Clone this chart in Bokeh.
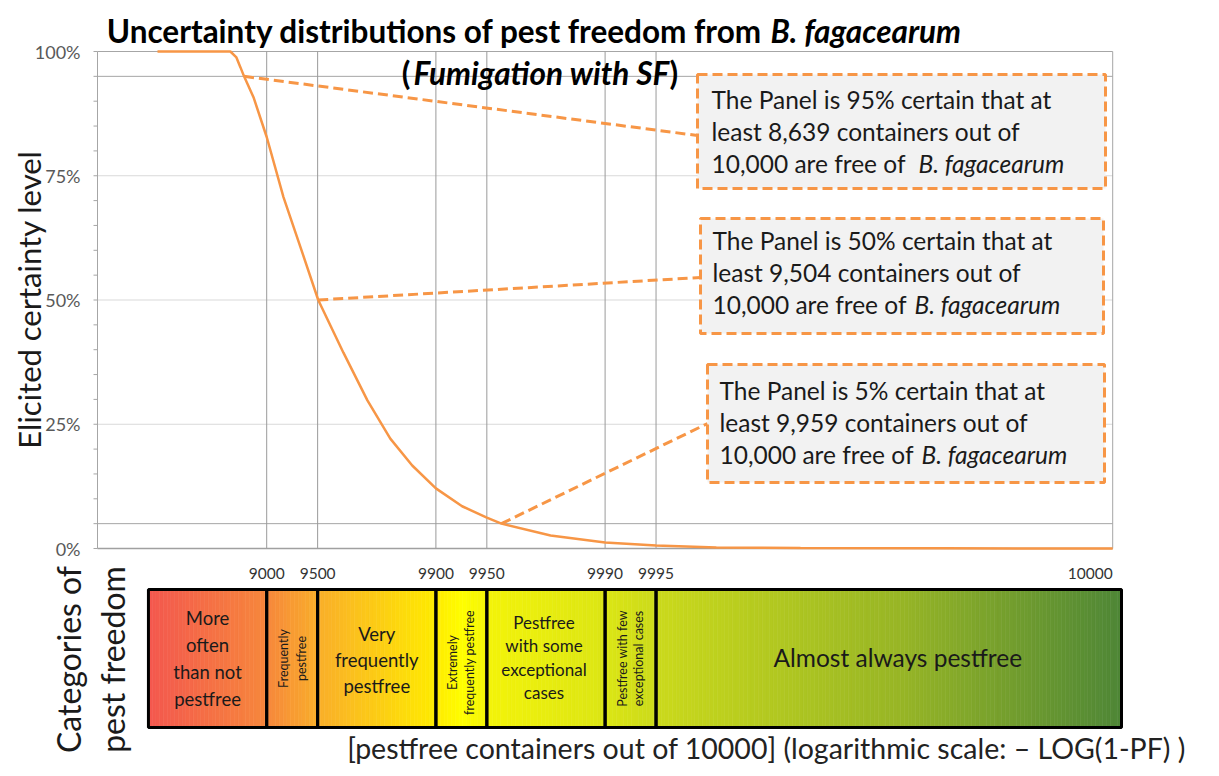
import numpy as np
from bokeh.plotting import figure
from bokeh.models import Range1d
from bokeh.embed import file_html
from bokeh.resources import INLINE
from bokeh.core.properties import value

# ---------------- data ----------------
CURVE_CONTAINERS = [5580, 8360, 8490, 8571, 8639, 8803, 9000, 9204, 9369, 9504,
                    9648, 9746, 9814, 9862, 9900, 9930, 9950, 9959, 9979, 9990,
                    9995, 9997.8, 9999.3, 9999.9, 10000]
CURVE_CERTAINTY = [1.0, 1.0, 0.988, 0.968, 0.95, 0.908, 0.828, 0.707, 0.606, 0.50,
                   0.394, 0.298, 0.221, 0.167, 0.121, 0.085, 0.062, 0.05, 0.026, 0.012,
                   0.006, 0.002, 0.001, 0.0003, 0.0]

Y_TICKS = [0, 0.25, 0.5, 0.75, 1.0]
Y_GRID = [0.25, 0.5, 0.75]
Y_REF_LEVELS = [0.05, 0.95, 1.0]
Y_MINOR_STEP = 0.05
X_TICKS = [9000, 9500, 9900, 9950, 9990, 9995, 10000]

QUANTILE_CERTAINTY = [0.95, 0.50, 0.05]
QUANTILE_CONTAINERS = [8639, 9504, 9959]
TOTAL = 10000
ORGANISM = "B. fagacearum"

CATEGORY_EDGES = [5000, 9000, 9500, 9900, 9950, 9990, 9995, 10000]
CATEGORY_LINES = [["More", "often", "than not", "pestfree"],
                  ["Frequently", "pestfree"],
                  ["Very", "frequently", "pestfree"],
                  ["Extremely", "frequently pestfree"],
                  ["Pestfree", "with some", "exceptional", "cases"],
                  ["Pestfree with few", "exceptional cases"],
                  ["Almost always pestfree"]]

TITLE_MAIN = "Uncertainty distributions of pest freedom from"
SUBTITLE = "Fumigation with SF"
X_TITLE = "[pestfree containers out of 10000] (logarithmic scale: \u2013 LOG(1-PF) )"
Y_TITLE = "Elicited certainty level"
BAND_TITLE = ["Categories of", "pest freedom"]

# ---------------- layout / style ----------------
FONT = value("Lato")
ORANGE = "#F79646"
TXT = "#1A1A1A"
W, H = 1211, 768
PX0, DEC = 97.0, 169.2      # pixel x of x=0 and pixels per decade
PY0, UNIT = 548.0, 497.0    # pixel y of 0 % and pixels per 100 %
X_MAX = 6.0


def X(px):
    return (px - PX0) / DEC


def Y(py):
    return (PY0 - py) / UNIT


def pf_to_x(n):
    n = np.asarray(n, dtype=float)
    return -np.log10(np.maximum(1 - n / TOTAL, 10.0 ** -X_MAX))


p = figure(width=W, height=H, output_backend="svg", toolbar_location=None,
           x_range=Range1d(X(0), X(W)), y_range=Range1d(Y(H), Y(0)),
           x_axis_location=None, y_axis_location=None, min_border=0)
p.xgrid.visible = False
p.ygrid.visible = False
p.outline_line_color = None
p.background_fill_color = "white"
p.border_fill_color = "white"


def txt(x, y, t, size, align="center", style="normal", color=TXT, angle=0):
    t = list(t)
    n = len(t)
    xs = list(np.broadcast_to(np.atleast_1d(np.asarray(x, dtype=float)), (n,)))
    ys = list(np.broadcast_to(np.atleast_1d(np.asarray(y, dtype=float)), (n,)))
    p.text(x=xs, y=ys, text=t, angle=angle,
           text_font=FONT, text_font_size=size, text_font_style=style, text_color=color,
           text_align=align, text_baseline="middle")


# grid lines
p.segment(x0=0, x1=X_MAX, y0=Y_GRID, y1=Y_GRID, line_color="#D9D9D9", line_width=1)
p.segment(x0=0, x1=X_MAX, y0=Y_REF_LEVELS, y1=Y_REF_LEVELS, line_color="#A6A6A6", line_width=1)
vx = pf_to_x(X_TICKS[:-1])
p.segment(x0=vx, x1=vx, y0=0, y1=1, line_color="#9A9A9A", line_width=1)
p.segment(x0=[0, X_MAX], x1=[0, X_MAX], y0=[0, 0], y1=[1, 1], line_color="#A6A6A6", line_width=1)
p.segment(x0=[0], x1=[X_MAX], y0=[0], y1=[0], line_color="#A0A0A0", line_width=1.5)

# y axis ticks and labels
minor = np.round(np.arange(0, 1.0001, Y_MINOR_STEP), 2)
p.segment(x0=X(93), x1=0, y0=minor, y1=minor, line_color="#A6A6A6", line_width=1)
txt(X(80), Y_TICKS, [f"{int(round(t * 100))}%" for t in Y_TICKS], "18px", align="right", color="#595959")

# curve
p.line(pf_to_x(CURVE_CONTAINERS), CURVE_CERTAINTY, line_color=ORANGE, line_width=2.5)

# annotation boxes
BOX_PX = [(697, 74, 1105, 188), (700, 218, 1103, 333), (707, 364, 1104, 482)]
BOX_ANCHOR_PY = [135, 277, 423]
BOX_TEXT_LEFT = [711, 712, 719]
BOX_TEXT_TOP = [99, 240, 390]
BOX_ITALIC_LEFT = [918, 914, 921]
LINE_GAP = 32
BOX_FONT = "24.5px"

qx = pf_to_x(QUANTILE_CONTAINERS)
p.segment(x0=qx, y0=QUANTILE_CERTAINTY,
          x1=[X(b[0]) for b in BOX_PX], y1=[Y(a) for a in BOX_ANCHOR_PY],
          line_color=ORANGE, line_width=3, line_dash="10 5")
p.quad(left=[X(b[0]) for b in BOX_PX], right=[X(b[2]) for b in BOX_PX],
       top=[Y(b[1]) for b in BOX_PX], bottom=[Y(b[3]) for b in BOX_PX],
       fill_color="#F2F2F2", line_color=ORANGE, line_width=3, line_dash="10 5")

for i, (c, n) in enumerate(zip(QUANTILE_CERTAINTY, QUANTILE_CONTAINERS)):
    lines = [f"The Panel is {int(round(c * 100))}% certain that at",
             f"least {n:,} containers out of",
             f"{TOTAL:,} are free of"]
    ys = [Y(BOX_TEXT_TOP[i] + k * LINE_GAP) for k in range(3)]
    txt(X(BOX_TEXT_LEFT[i]), ys, lines, BOX_FONT, align="left")
    txt(X(BOX_ITALIC_LEFT[i]), ys[2], [ORGANISM], BOX_FONT, align="left", style="italic")

# x tick labels
txt(pf_to_x(X_TICKS[:-1]), Y(573), [str(t) for t in X_TICKS[:-1]], "15.5px", color="#333333")
txt(pf_to_x(X_TICKS[-1:]), Y(573), [str(X_TICKS[-1])], "15.5px", align="right", color="#333333")

# category band with gradient
BAND_TOP, BAND_BOTTOM = Y(589), Y(727)
edges = pf_to_x(CATEGORY_EDGES)
edges[-1] = X(1121)
GRAD_PX = [147, 267, 318, 437, 462, 487, 607, 657, 900, 1121]
GRAD_RGB = [(244, 87, 79), (247, 136, 60), (250, 175, 42), (255, 236, 0), (255, 255, 0),
            (244, 244, 10), (220, 230, 21), (203, 218, 28), (152, 182, 38), (79, 135, 55)]
NS = 260
sx = np.linspace(edges[0], edges[-1], NS + 1)
sc = (sx[:-1] + sx[1:]) / 2
gx = [X(v) for v in GRAD_PX]
rgb = np.array(GRAD_RGB, dtype=float)
cols = []
for v in sc:
    r, g, b = (np.interp(v, gx, rgb[:, k]) for k in range(3))
    cols.append("#%02x%02x%02x" % (int(r), int(g), int(b)))
p.quad(left=sx[:-1], right=sx[1:], top=BAND_TOP, bottom=BAND_BOTTOM,
       fill_color=cols, line_color=cols, line_width=0.6)
p.quad(left=edges[:-1], right=edges[1:], top=BAND_TOP, bottom=BAND_BOTTOM,
       fill_color=None, line_color="black", line_width=3)

CAT_STYLE = [dict(rot=False, size=18.5, gap=27, cy=657.5, dx=0),
             dict(rot=True, size=12.5, gap=18, cy=658, dx=0),
             dict(rot=False, size=18.5, gap=26, cy=659, dx=0),
             dict(rot=True, size=12.5, gap=17, cy=662, dx=0),
             dict(rot=False, size=17, gap=23.3, cy=657, dx=-2),
             dict(rot=True, size=12.5, gap=16.5, cy=658, dx=0),
             dict(rot=False, size=24.5, gap=0, cy=657, dx=9)]
for i, lines in enumerate(CATEGORY_LINES):
    st = CAT_STYLE[i]
    cxp = PX0 + DEC * (edges[i] + edges[i + 1]) / 2 + st["dx"]
    n = len(lines)
    offs = [(k - (n - 1) / 2) * st["gap"] for k in range(n)]
    if st["rot"]:
        xs = [X(cxp + o) for o in offs]
        ys = [Y(st["cy"])] * n
        ang = np.pi / 2
    else:
        xs = [X(cxp)] * n
        ys = [Y(st["cy"] + o) for o in offs]
        ang = 0
    txt(xs, ys, lines, f"{st['size']}px", angle=ang)

# x title
txt(X(766), Y(747), [X_TITLE], "28.5px", align="center", color="#222222")

# titles
TS = "31.5px"
txt(X(762), Y(30), [TITLE_MAIN], TS, align="right", style="bold", color="black")
txt(X(770), Y(30), [ORGANISM], TS, align="left", style="bold italic", color="black")
txt(X(410), Y(72), ["("], TS, align="right", style="bold", color="black")
txt(X(413), Y(72), [SUBTITLE], TS, align="left", style="bold italic", color="black")
txt(X(669), Y(72), [")"], TS, align="left", style="bold", color="black")

# rotated side titles
txt(X(28), Y(299), [Y_TITLE], "31px", angle=np.pi / 2)
txt([X(68), X(112)], Y(659), BAND_TITLE, "32px", angle=np.pi / 2)

open("out.html", "w").write(file_html(p, INLINE))
